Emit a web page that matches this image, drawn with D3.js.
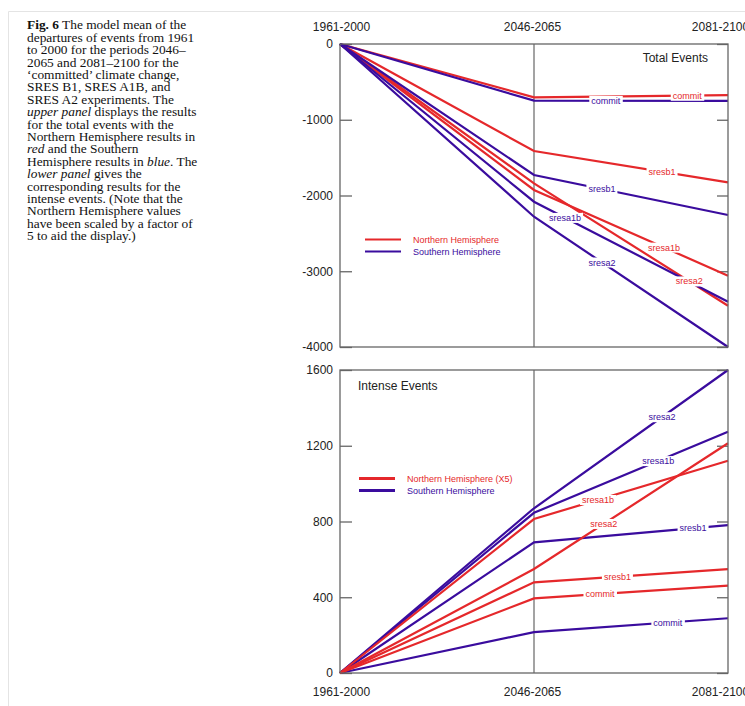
<!DOCTYPE html>
<html>
<head>
<meta charset="UTF-8">
<script src="https://d3js.org/d3.v7.min.js"></script>
<style>
  body { margin: 0; background: #fff; }
  svg text { font-family: "Liberation Sans", Arial, sans-serif; }
  .caption text { font-family: "Liberation Serif", "Times New Roman", serif; font-size: 12.4px; fill: #111; }
  .tick text { font-size: 12px; fill: #222; }
  .tick line { stroke: #666; stroke-width: 1.3; }
</style>
</head>
<body>
<svg width="745" height="706"></svg>
<script>
// periods on the x axis
const periods = ["1961-2000", "2046-2065", "2081-2100"];
const scenarios = ["commit", "sresb1", "sresa1b", "sresa2"];

// total events, departures from 1961-2000 (one row per scenario)
const totalNorth = [[0, -704, -675], [0, -1413, -1826], [0, -1927, -3059], [0, -1840, -3455]];
const totalSouth = [[0, -748, -750], [0, -1729, -2257], [0, -2082, -3402], [0, -2280, -4000]];

// intense events (northern values scaled x5)
const intenseNorth = [[0, 394, 461], [0, 479, 549], [0, 813, 1121], [0, 549, 1213]];
const intenseSouth = [[0, 216, 289], [0, 690, 781], [0, 846, 1274], [0, 870, 1600]];

const totalTicks = [0, -1000, -2000, -3000, -4000];
const intenseTicks = [0, 400, 800, 1200, 1600];

const red = "#e5282b", blue = "#3a0c9e";

const svg = d3.select("svg");

// faint page border
svg.append("path").attr("d", "M8.5,706V11.5H745").attr("fill", "none").attr("stroke", "#e4e4e4");

// caption
const caption = [
  [["Fig. 6", "b"], [" The model mean of the", ""]],
  [["departures of events from 1961", ""]],
  [["to 2000 for the periods 2046–", ""]],
  [["2065 and 2081–2100 for the", ""]],
  [["‘committed’ climate change,", ""]],
  [["SRES B1, SRES A1B, and", ""]],
  [["SRES A2 experiments. The", ""]],
  [["upper panel", "i"], [" displays the results", ""]],
  [["for the total events with the", ""]],
  [["Northern Hemisphere results in", ""]],
  [["red", "i"], [" and the Southern", ""]],
  [["Hemisphere results in ", ""], ["blue", "i"], [". The", ""]],
  [["lower panel", "i"], [" gives the", ""]],
  [["corresponding results for the", ""]],
  [["intense events. (Note that the", ""]],
  [["Northern Hemisphere values", ""]],
  [["have been scaled by a factor of", ""]],
  [["5 to aid the display.)", ""]]
];
const cap = svg.append("g").attr("class", "caption")
  .attr("transform", "translate(27,0) scale(1.08,1)");
caption.forEach((line, i) => {
  const t = cap.append("text").attr("x", 0).attr("y", 29.5 + i * 12.4);
  line.forEach(([s, st]) => {
    t.append("tspan").text(s)
      .attr("font-weight", st === "b" ? "bold" : null)
      .attr("font-style", st === "i" ? "italic" : null);
  });
});

const x = d3.scalePoint().domain(periods).range([340, 728]);

function panel(top, bottom, domain, ticks, north, south, northFirst, opts) {
  const y = d3.scaleLinear().domain(domain).range([bottom, top]);
  const g = svg.append("g");

  g.append("line")
    .attr("x1", x(periods[1])).attr("x2", x(periods[1]))
    .attr("y1", top).attr("y2", bottom)
    .attr("stroke", "#666").attr("stroke-width", 1.2);

  g.append("g").attr("transform", `translate(${x(periods[0])},0)`)
    .call(d3.axisLeft(y).tickValues(ticks).tickFormat(d => String(d))
      .tickSizeInner(-12).tickSizeOuter(0).tickPadding(7))
    .call(a => a.select(".domain").remove());
  g.append("g").attr("transform", `translate(${x(periods[2])},0)`)
    .call(d3.axisRight(y).tickValues(ticks).tickSizeInner(-11).tickSizeOuter(0).tickFormat(""))
    .call(a => a.select(".domain").remove());

  const line = d3.line().x((d, i) => x(periods[i])).y(d => y(d));
  const groups = northFirst ? [[north, red], [south, blue]] : [[south, blue], [north, red]];
  groups.forEach(([rows, c]) => {
    g.selectAll(null).data(rows).enter().append("path")
      .attr("d", line).attr("fill", "none")
      .attr("stroke", c).attr("stroke-width", 2.2);
  });

  // frame
  g.append("rect")
    .attr("x", x(periods[0])).attr("y", top)
    .attr("width", x(periods[2]) - x(periods[0])).attr("height", bottom - top)
    .attr("fill", "none").attr("stroke", "#666").attr("stroke-width", 1.3);

  // inline series labels on white background
  [[north, red, opts.northAt], [south, blue, opts.southAt]].forEach(([rows, c, at]) => {
    rows.forEach((d, i) => {
      const t = at[i];
      const px = x(periods[1]) + t * (x(periods[2]) - x(periods[1]));
      const py = y(d[1] + t * (d[2] - d[1]));
      const lg = g.append("g");
      const txt = lg.append("text").attr("x", px).attr("y", py + 3.2)
        .attr("text-anchor", "middle").attr("font-size", 9).attr("fill", c)
        .text(scenarios[i]);
      const b = txt.node().getBBox();
      lg.insert("rect", "text")
        .attr("x", b.x - 2).attr("y", b.y).attr("width", b.width + 4).attr("height", b.height)
        .attr("fill", "#fff");
    });
  });

  // legend
  const lgd = g.append("g");
  opts.legend.forEach(([label, c], i) => {
    const ly = opts.legendY + i * 12;
    lgd.append("line").attr("x1", opts.legendX).attr("x2", opts.legendX + 36)
      .attr("y1", ly).attr("y2", ly).attr("stroke", c).attr("stroke-width", opts.legendW);
    lgd.append("text").attr("x", opts.legendX + 48).attr("y", ly + 3.2)
      .attr("font-size", 9).attr("fill", c).text(label);
  });

  g.append("text").attr("x", opts.titleX).attr("y", opts.titleY)
    .attr("text-anchor", opts.titleAnchor).attr("font-size", 12).attr("fill", "#222")
    .text(opts.title);

  return y;
}

panel(44, 347, [-4000, 0], totalTicks, totalNorth, totalSouth, true, {
  northAt: [0.79, 0.66, 0.67, 0.8],
  southAt: [0.37, 0.35, 0.16, 0.35],
  legend: [["Northern Hemisphere", red], ["Southern Hemisphere", blue]],
  legendX: 365, legendY: 239.5, legendW: 2,
  title: "Total Events", titleX: 708, titleY: 62, titleAnchor: "end"
});

panel(370, 673, [0, 1600], intenseTicks, intenseNorth, intenseSouth, false, {
  northAt: [0.34, 0.43, 0.33, 0.36],
  southAt: [0.69, 0.82, 0.64, 0.66],
  legend: [["Northern Hemisphere (X5)", red], ["Southern Hemisphere", blue]],
  legendX: 359, legendY: 478.5, legendW: 3,
  title: "Intense Events", titleX: 358, titleY: 390, titleAnchor: "start"
});

// period labels above and below (last one sits a little left, as in the print)
const shiftLast = a => a.selectAll(".tick text")
  .attr("dx", d => d === periods[2] ? -8 : d === periods[1] ? -2 : 1);
svg.append("g").attr("transform", "translate(0,43)")
  .call(d3.axisTop(x).tickSize(0).tickPadding(12))
  .call(a => a.select(".domain").remove())
  .call(shiftLast);
svg.append("g").attr("transform", "translate(0,673)")
  .call(d3.axisBottom(x).tickSize(0).tickPadding(14))
  .call(a => a.select(".domain").remove())
  .call(shiftLast);
</script>
</body>
</html>
